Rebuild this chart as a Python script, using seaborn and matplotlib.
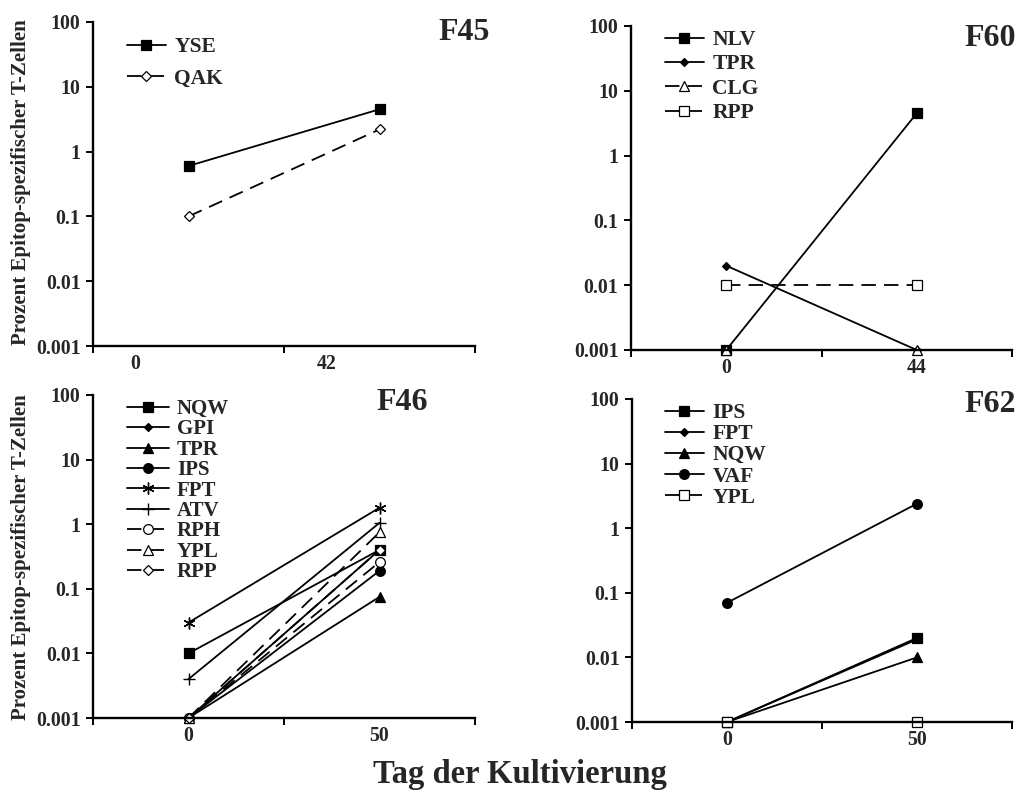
import matplotlib
matplotlib.use("Agg")
import matplotlib.pyplot as plt
import seaborn as sns
from matplotlib.ticker import FixedLocator, FixedFormatter, NullFormatter

# --- data: percentage of epitope-specific T cells at culture start / end ---
days_f45 = ["0", "42"]
f45_yse = [0.6, 4.5]
f45_qak = [0.1, 2.2]

days_f60 = ["0", "44"]
f60_nlv = [0.001, 4.5]
f60_tpr = [0.02, 0.001]
f60_clg = [0.001, 0.001]
f60_rpp = [0.01, 0.01]

days_f46 = ["0", "50"]
f46_nqw = [0.01, 0.4]
f46_gpi = [0.001, 0.4]
f46_tpr = [0.001, 0.075]
f46_ips = [0.001, 0.19]
f46_fpt = [0.03, 1.8]
f46_atv = [0.004, 1.05]
f46_rph = [0.001, 0.26]
f46_ypl = [0.001, 0.75]
f46_rpp = [0.001, 0.4]

days_f62 = ["0", "50"]
f62_ips = [0.001, 0.02]
f62_fpt = [0.001, 0.019]
f62_nqw = [0.001, 0.01]
f62_vaf = [0.07, 2.4]
f62_ypl = [0.001, 0.001]

y_ticks = [100, 10, 1, 0.1, 0.01, 0.001]
y_tick_labels = ["100", "10", "1", "0.1", "0.01", "0.001"]

sns.set_style("ticks")
plt.rcParams["font.family"] = ["Liberation Serif", "DejaVu Serif"]
plt.rcParams["font.weight"] = "bold"

W, H = 1021, 792
fig = plt.figure(figsize=(W / 100, H / 100), dpi=100)

DASH = (0, (8, 4.5))
SOLID = "-"
LW = 1.3
TICK_FS = 14.3

# marker styles: (marker, size, filled)
STY = {
    "sq": ("s", 7.0, True),
    "sq_o": ("s", 7.0, False),
    "dia": ("D", 4.2, True),
    "dia_o": ("D", 5.5, False),
    "tri": ("^", 7.5, True),
    "tri_o": ("^", 7.5, False),
    "cir": ("o", 7.0, True),
    "cir_o": ("o", 7.0, False),
    "ast": ((6, 2, 0), 8.5, None),
    "plus": ("+", 8.5, None),
}


def px_axes(left, top, right, bottom):
    return fig.add_axes([left / W, 1 - bottom / H, (right - left) / W, (bottom - top) / H])


def draw_series(ax, name, values, style, ls):
    marker, ms, filled = STY[style]
    kw = dict(marker=marker, markersize=ms, markeredgecolor="black", clip_on=False,
              linestyle=ls, linewidth=LW, color="black", label=name)
    if filled is None:
        kw["markeredgewidth"] = 1.0
    else:
        kw["markeredgewidth"] = 0.9
        kw["markerfacecolor"] = "black" if filled else "white"
    sns.lineplot(x=[0.5, 1.5], y=values, ax=ax, **kw)


def style_axes(ax, day_labels, label_pos):
    ax.set_yscale("log")
    ax.set_ylim(0.001, 100)
    ax.set_xlim(0, 2)
    ax.yaxis.set_major_locator(FixedLocator(y_ticks))
    ax.yaxis.set_major_formatter(FixedFormatter(y_tick_labels))
    ax.yaxis.set_minor_locator(FixedLocator([]))
    ax.xaxis.set_major_locator(FixedLocator([0, 1, 2]))
    ax.xaxis.set_major_formatter(NullFormatter())
    ax.xaxis.set_minor_locator(FixedLocator(label_pos))
    ax.xaxis.set_minor_formatter(FixedFormatter(day_labels))
    ax.tick_params(axis="x", which="major", direction="out", length=5, width=1.4, color="black")
    ax.tick_params(axis="x", which="minor", length=0, pad=6, labelsize=TICK_FS)
    ax.tick_params(axis="y", which="major", direction="out", length=5, width=1.4,
                   color="black", labelsize=TICK_FS, pad=4)
    for lab in ax.get_xticklabels(minor=True) + ax.get_yticklabels():
        lab.set_fontweight("bold")
    sns.despine(ax=ax)
    for sp in ("left", "bottom"):
        ax.spines[sp].set_linewidth(1.7)
        ax.spines[sp].set_color("black")
    ax.set_xlabel("")
    ax.set_ylabel("")
    ax.patch.set_alpha(0)


def add_legend(ax, anchor_px, fontsize, spacing, handlelen=1.8):
    leg = ax.legend(loc="upper left", bbox_to_anchor=(anchor_px[0] / W, 1 - anchor_px[1] / H),
                    bbox_transform=fig.transFigure, frameon=False, borderpad=0, borderaxespad=0,
                    handlelength=handlelen, handletextpad=0.4, labelspacing=spacing,
                    prop={"family": "Liberation Serif", "weight": "bold", "size": fontsize})
    return leg


# ---------------- F45 ----------------
ax1 = px_axes(93, 22, 475, 346)
draw_series(ax1, "YSE", f45_yse, "sq", SOLID)
draw_series(ax1, "QAK", f45_qak, "dia_o", DASH)
style_axes(ax1, days_f45, [0.22, 1.225])
add_legend(ax1, (127, 37), 15.5, 0.55)
fig.text(490 / W, 1 - 33 / H, "F45", ha="right", va="center", fontsize=23, fontweight="bold")

# ---------------- F60 ----------------
ax2 = px_axes(631, 26, 1012, 350)
draw_series(ax2, "NLV", f60_nlv, "sq", SOLID)
draw_series(ax2, "TPR", f60_tpr, "dia", SOLID)
draw_series(ax2, "CLG", f60_clg, "tri_o", DASH)
draw_series(ax2, "RPP", f60_rpp, "sq_o", DASH)
style_axes(ax2, days_f60, [0.5, 1.5])
add_legend(ax2, (665, 30), 15.5, 0.2)
fig.text(1016 / W, 1 - 38 / H, "F60", ha="right", va="center", fontsize=23, fontweight="bold")

# ---------------- F46 ----------------
ax3 = px_axes(93, 395, 475, 718)
draw_series(ax3, "NQW", f46_nqw, "sq", SOLID)
draw_series(ax3, "GPI", f46_gpi, "dia", SOLID)
draw_series(ax3, "TPR", f46_tpr, "tri", SOLID)
draw_series(ax3, "IPS", f46_ips, "cir", SOLID)
draw_series(ax3, "FPT", f46_fpt, "ast", SOLID)
draw_series(ax3, "ATV", f46_atv, "plus", SOLID)
draw_series(ax3, "RPH", f46_rph, "cir_o", DASH)
draw_series(ax3, "YPL", f46_ypl, "tri_o", DASH)
draw_series(ax3, "RPP", f46_rpp, "dia_o", DASH)
style_axes(ax3, days_f46, [0.5, 1.5])
add_legend(ax3, (127, 399), 15, 0.02, 2.0)
fig.text(428 / W, 1 - 402 / H, "F46", ha="right", va="center", fontsize=23, fontweight="bold")

# ---------------- F62 ----------------
ax4 = px_axes(632, 399, 1012, 722)
draw_series(ax4, "IPS", f62_ips, "sq", SOLID)
draw_series(ax4, "FPT", f62_fpt, "dia", SOLID)
draw_series(ax4, "NQW", f62_nqw, "tri", SOLID)
draw_series(ax4, "VAF", f62_vaf, "cir", SOLID)
draw_series(ax4, "YPL", f62_ypl, "sq_o", DASH)
style_axes(ax4, days_f62, [0.5, 1.5])
add_legend(ax4, (665, 403), 15.5, 0.05)
fig.text(1016 / W, 1 - 405 / H, "F62", ha="right", va="center", fontsize=23, fontweight="bold")

# shared axis titles
ylab = "Prozent Epitop-spezifischer T-Zellen"
fig.text(21 / W, 1 - 182 / H, ylab, rotation=90, ha="center", va="center",
         fontsize=15, fontweight="bold")
fig.text(21 / W, 1 - 557 / H, ylab, rotation=90, ha="center", va="center",
         fontsize=15, fontweight="bold")
fig.text(520 / W, 1 - 774 / H, "Tag der Kultivierung", ha="center", va="center",
         fontsize=23.5, fontweight="bold")

fig.savefig("out.png", dpi=100, facecolor="white")
